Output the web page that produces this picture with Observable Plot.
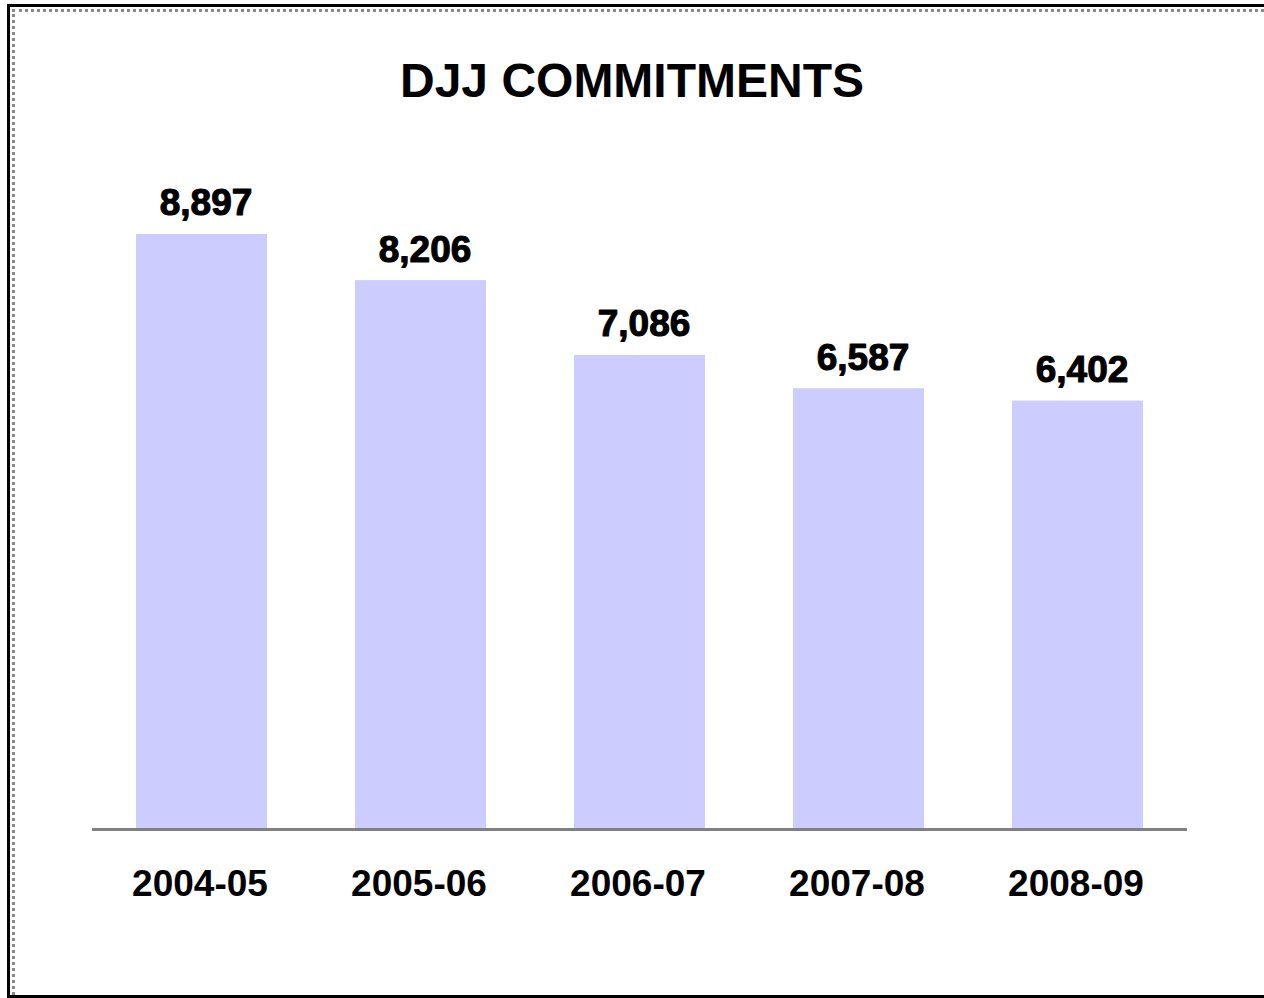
<!DOCTYPE html>
<html><head><meta charset="utf-8">
<script src="https://cdn.jsdelivr.net/npm/d3@7"></script>
<script src="https://cdn.jsdelivr.net/npm/@observablehq/plot@0.6"></script>
<style>
html,body{margin:0;padding:0;background:#fff;overflow:hidden;}
#wrap{position:relative;width:1264px;height:998px;overflow:hidden;font-family:"Liberation Sans",Arial,sans-serif;background:#fff;}
#dotted{position:absolute;left:12px;top:9px;width:1252px;height:986px;box-sizing:border-box;border-left:3px dotted #8a8a8a;border-top:3px dotted #8a8a8a;}
#outer{position:absolute;left:7px;top:4px;width:1257px;height:994px;box-sizing:border-box;border-left:3px solid #000;border-top:3px solid #000;border-bottom:3px solid #000;}
#title{position:absolute;left:0;width:1264px;top:57px;text-align:center;font-size:48px;line-height:48px;font-weight:bold;color:#000;}
#chart{position:absolute;left:0;top:0;}
</style></head>
<body>
<div id="wrap">
<div id="dotted"></div>
<div id="outer"></div>
<div id="chart"></div>
<div id="title">DJJ COMMITMENTS</div>
</div>
<script>
const years = ["2004-05", "2005-06", "2006-07", "2007-08", "2008-09"];
const commitments = [8897, 8206, 7086, 6587, 6402];
const data = years.map((y, i) => ({year: y, value: commitments[i]}));
const fmt = d3.format(",");
const chart = Plot.plot({
  width: 1264,
  height: 998,
  marginLeft: 92,
  marginRight: 77,
  marginTop: 227.1,
  marginBottom: 170,
  style: {fontFamily: "'Liberation Sans', Arial, sans-serif", background: "transparent", color: "#000"},
  x: {domain: years, paddingInner: 0.4, paddingOuter: 0.2, label: null},
  y: {domain: [0, 9000], axis: null},
  marks: [
    Plot.barY(data, {x: "year", y: "value", fill: "#ccccff"}),
    Plot.ruleY([0], {stroke: "#808080", strokeWidth: 3, dy: 1}),
    Plot.text(data, {x: "year", y: "value", text: d => fmt(d.value), dy: -19, dx: 4, lineAnchor: "bottom", fontSize: 37, fontWeight: "bold", fill: "#000", stroke: "#000", strokeWidth: 1.1}),
    Plot.axisX({tickSize: 0, tickPadding: 41, dx: -2, fontSize: 37, fontWeight: "bold", label: null, fill: "#000", stroke: "#000", strokeWidth: 1.1})
  ]
});
document.getElementById("chart").appendChild(chart);
</script>
</body></html>
